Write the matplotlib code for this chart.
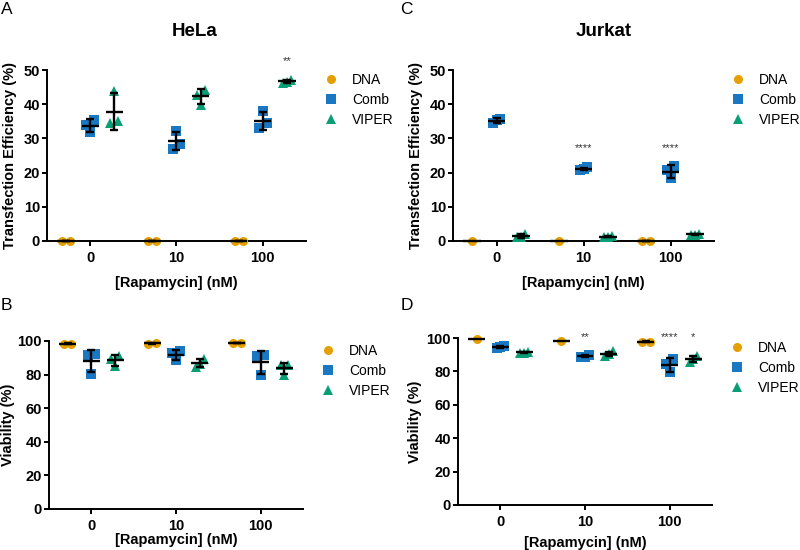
import numpy as np
import matplotlib
matplotlib.use('Agg')
import matplotlib.pyplot as plt

plt.rcParams['font.family'] = ['Liberation Sans', 'DejaVu Sans']

doses = ['0', '10', '100']
series = ['DNA', 'Comb', 'VIPER']
colors = {'DNA': '#E69F00', 'Comb': '#1A78C2', 'VIPER': '#0A9E76'}
markers = {'DNA': 'o', 'Comb': 's', 'VIPER': '^'}

# HeLa transfection efficiency (%) - replicates per dose
hela_te_dna = [[0.0, 0.0], [0.0, 0.0], [0.0, 0.0]]
hela_te_comb = [[31.8, 34.0, 35.5], [32.2, 28.5, 27.0], [38.0, 34.5, 33.0]]
hela_te_viper = [[44.0, 34.5, 35.0], [44.2, 42.8, 39.9], [47.2, 46.5, 46.3]]
# HeLa viability (%)
hela_v_dna = [[98.2, 98.5], [98.5, 98.8], [98.7, 98.7]]
hela_v_comb = [[80.5, 91.5, 92.5], [94.2, 92.8, 88.5], [79.5, 90.8, 91.5]]
hela_v_viper = [[85.0, 89.5, 90.8], [89.5, 86.5, 84.5], [80.0, 85.5, 86.0]]
# Jurkat transfection efficiency (%)
jurkat_te_dna = [[0.0], [0.0], [0.0, 0.0]]
jurkat_te_comb = [[35.8, 35.3, 34.6], [21.5, 21.0, 20.7], [21.9, 20.7, 18.3]]
jurkat_te_viper = [[2.0, 1.3, 1.1], [1.5, 1.2, 1.1], [2.1, 1.9, 1.8]]
# Jurkat viability (%)
jurkat_v_dna = [[99.2], [98.2], [97.6, 97.9]]
jurkat_v_comb = [[95.3, 94.6, 94.2], [89.8, 88.9, 88.6], [87.5, 84.5, 79.5]]
jurkat_v_viper = [[91.8, 91.3, 90.9], [92.0, 90.3, 89.5], [89.2, 87.3, 85.8]]

# significance marks: (series, dose index, label)
hela_te_sig = [('VIPER', 2, '**')]
hela_v_sig = []
jurkat_te_sig = [('Comb', 1, '****'), ('Comb', 2, '****')]
jurkat_v_sig = [('Comb', 1, '**'), ('Comb', 2, '****'), ('VIPER', 2, '*')]

SER_OFF = {'DNA': -0.28, 'Comb': 0.0, 'VIPER': 0.28}
W, H = 800, 550


def swarm_offsets(vals, thr, span):
    vals = np.asarray(vals, dtype=float)
    order = np.argsort(vals, kind='stable')
    offs = np.zeros(len(vals))
    clusters, cur = [], [order[0]]
    for a, b in zip(order[:-1], order[1:]):
        if vals[b] - vals[a] < thr:
            cur.append(b)
        else:
            clusters.append(cur)
            cur = [b]
    clusters.append(cur)
    for c in clusters:
        k = len(c)
        if k == 1:
            continue
        for j, idx in enumerate(c):
            offs[idx] = -span / 2 + j * span / (k - 1)
    return offs


def panel(fig, rect_px, data, ymax, ystep, ylabel, sig, xlabelpad, ylabelpad,
          legend_top):
    l, t, r, b = rect_px
    ax = fig.add_axes([l / W, 1 - b / H, (r - l) / W, (b - t) / H])
    ax.set_xlim(-0.5, 2.5)
    ax.set_ylim(0, ymax)
    px_per_unit = (b - t) / ymax
    thr = 7.0 / px_per_unit
    span = 0.09
    for s in series:
        for gi, vals in enumerate(data[s]):
            xc = gi + SER_OFF[s]
            offs = swarm_offsets(vals, thr, span)
            ax.plot(xc + offs, vals, linestyle='none', marker=markers[s],
                    color=colors[s], markersize=6.5 if s != 'VIPER' else 7.2,
                    markeredgewidth=0, clip_on=False, zorder=3,
                    label=s if gi == 0 else None)
            m = np.mean(vals)
            ax.plot([xc - 0.1, xc + 0.1], [m, m], color='k', lw=1.7,
                    zorder=4, clip_on=False, solid_capstyle='butt')
            if len(vals) > 1:
                sd = np.std(vals, ddof=1)
                ax.errorbar(xc, m, yerr=sd, color='k', lw=1.7, capsize=3,
                            capthick=1.7, zorder=4, clip_on=False)
    if sig:
        top = max(max(data[s][gi]) for s, gi, _ in sig)
        for s, gi, lab in sig:
            ax.annotate(lab, (gi + SER_OFF[s], top), xytext=(0, 13),
                        textcoords='offset points', ha='center', va='center',
                        fontsize=8, color='#333333', annotation_clip=False)
    ax.set_xticks(range(len(doses)))
    ax.set_xticklabels(doses)
    ax.set_yticks(np.arange(0, ymax + 0.1, ystep))
    for sp in ['top', 'right']:
        ax.spines[sp].set_visible(False)
    for sp in ['left', 'bottom']:
        ax.spines[sp].set_linewidth(1.4)
    ax.tick_params(direction='out', length=3.5, width=1.4, labelsize=10.5)
    ax.tick_params(axis='x', pad=3.5)
    ax.tick_params(axis='y', pad=1.5)
    for lbl in ax.get_xticklabels() + ax.get_yticklabels():
        lbl.set_fontweight('bold')
    ax.set_xlabel('[Rapamycin] (nM)', fontsize=10.5, fontweight='bold',
                  labelpad=xlabelpad)
    ax.set_ylabel(ylabel, fontsize=10.5, fontweight='bold', labelpad=ylabelpad)
    lx = (legend_top[0] - l) / (r - l)
    ly = (b - legend_top[1]) / (b - t)
    ax.legend(loc='upper left', bbox_to_anchor=(lx, ly), frameon=False,
              fontsize=10, handlelength=1.0, handletextpad=1.0,
              labelspacing=0.42, borderpad=0, borderaxespad=0)
    return ax


fig = plt.figure(figsize=(8, 5.5), dpi=100)

panel(fig, (47, 70, 306, 241),
      {'DNA': hela_te_dna, 'Comb': hela_te_comb, 'VIPER': hela_te_viper},
      50, 10, 'Transfection Efficiency (%)', hela_te_sig, 8, 5, (324, 73))
panel(fig, (453, 70, 714, 241),
      {'DNA': jurkat_te_dna, 'Comb': jurkat_te_comb, 'VIPER': jurkat_te_viper},
      50, 10, 'Transfection Efficiency (%)', jurkat_te_sig, 8, 5, (731, 73))
panel(fig, (49, 341, 303, 509),
      {'DNA': hela_v_dna, 'Comb': hela_v_comb, 'VIPER': hela_v_viper},
      100, 20, 'Viability (%)', hela_v_sig, 0.5, 2, (321, 344))
panel(fig, (458, 338, 712, 505),
      {'DNA': jurkat_v_dna, 'Comb': jurkat_v_comb, 'VIPER': jurkat_v_viper},
      100, 20, 'Viability (%)', jurkat_v_sig, 5, 3, (730, 341))

fig.text(195 / W, 1 - 31 / H, 'HeLa', fontsize=13.5, fontweight='bold',
         ha='center', va='center')
fig.text(604 / W, 1 - 31 / H, 'Jurkat', fontsize=13.5, fontweight='bold',
         ha='center', va='center')
for txt, x, y in [('A', 1, 10), ('C', 400, 10), ('B', 1, 305), ('D', 401, 305)]:
    fig.text(x / W, 1 - y / H, txt, fontsize=12.5, ha='left', va='center')

fig.savefig('out.png', dpi=100)
